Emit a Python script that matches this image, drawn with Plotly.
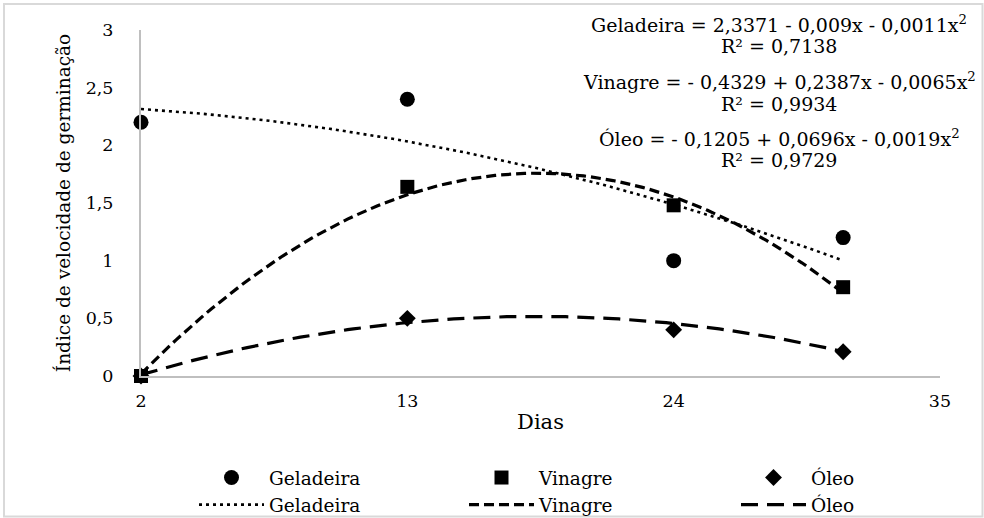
import numpy as np
import plotly.graph_objects as go

# ---- data ----
dias = [2, 13, 24, 31]
geladeira = [2.2, 2.4, 1.0, 1.2]
vinagre = [0.0, 1.64, 1.48, 0.77]
oleo = [0.0, 0.50, 0.40, 0.21]

# trendline coefficients (c0, c1, c2) as printed on the chart
coef_geladeira = [2.3371, -0.009, -0.0011]
coef_vinagre = [-0.4329, 0.2387, -0.0065]
coef_oleo = [-0.1205, 0.0696, -0.0019]

eq_texts = [
    "Geladeira = 2,3371 - 0,009x - 0,0011x<sup>2</sup>",
    "R² = 0,7138",
    "Vinagre = - 0,4329 + 0,2387x - 0,0065x<sup>2</sup>",
    "R² = 0,9934",
    "Óleo = - 0,1205 + 0,0696x - 0,0019x<sup>2</sup>",
    "R² = 0,9729",
]
eq_y = [24, 46, 81, 104, 138, 160]

y_ticks = [0, 0.5, 1, 1.5, 2, 2.5, 3]
x_ticks = [2, 13, 24, 35]

FONT = "DejaVu Serif, Liberation Serif, serif"
W, H = 984, 518
L, R, T, B = 141, 44, 30, 142
pw, ph = W - L - R, H - T - B

xs = np.linspace(min(dias), max(dias), 120)


def poly(c, x):
    return c[0] + c[1] * x + c[2] * x ** 2


def px_x(p):
    return (p - L) / pw


def px_y(p):
    return 1 - (p - T) / ph


fig = go.Figure()
# trend lines (drawn first, under markers)
fig.add_trace(go.Scatter(x=xs, y=poly(coef_geladeira, xs), mode="lines", name="Geladeira",
                         legend="legend", legendrank=2,
                         line=dict(color="black", width=2.6, dash="3px,4px"), cliponaxis=False))
fig.add_trace(go.Scatter(x=xs, y=poly(coef_vinagre, xs), mode="lines", name="Vinagre",
                         legend="legend2", legendrank=2,
                         line=dict(color="black", width=3.2, dash="10px,5px"), cliponaxis=False))
fig.add_trace(go.Scatter(x=xs, y=poly(coef_oleo, xs), mode="lines", name="Óleo",
                         legend="legend3", legendrank=2,
                         line=dict(color="black", width=3.2, dash="17px,9px"), cliponaxis=False))
# observed values
fig.add_trace(go.Scatter(x=dias, y=geladeira, mode="markers", name="Geladeira",
                         legend="legend", legendrank=1,
                         marker=dict(symbol="circle", size=15, color="black"), cliponaxis=False))
fig.add_trace(go.Scatter(x=dias, y=vinagre, mode="markers", name="Vinagre",
                         legend="legend2", legendrank=1,
                         marker=dict(symbol="square", size=14, color="black"), cliponaxis=False))
fig.add_trace(go.Scatter(x=dias, y=oleo, mode="markers", name="Óleo",
                         legend="legend3", legendrank=1,
                         marker=dict(symbol="diamond", size=13, color="black"), cliponaxis=False))

for txt, yp in zip(eq_texts, eq_y):
    fig.add_annotation(text=txt, xref="paper", yref="paper",
                       x=px_x(779), y=px_y(yp),
                       xanchor="center", yanchor="middle", showarrow=False,
                       font=dict(family=FONT, size=19, color="black"))

fig.add_shape(type="rect", xref="paper", yref="paper",
              x0=px_x(4), x1=px_x(982.5),
              y0=px_y(516.5), y1=px_y(4),
              line=dict(color="#d9d9d9", width=2), layer="below")


def leg(xpix):
    return dict(orientation="v", x=px_x(xpix), xanchor="left",
                y=px_y(459), yanchor="top", itemwidth=65,
                font=dict(family=FONT, size=18.5), traceorder="normal",
                bgcolor="rgba(0,0,0,0)", tracegroupgap=0)


fig.update_layout(
    width=W, height=H,
    margin=dict(l=L, r=R, t=T, b=B, autoexpand=False),
    paper_bgcolor="white", plot_bgcolor="white",
    separators=",.",
    font=dict(family=FONT, size=17, color="black"),
    showlegend=True,
    legend=leg(194),
    legend2=leg(464),
    legend3=leg(736),
    xaxis=dict(range=[2, 35], tickvals=x_ticks, showgrid=False, zeroline=False,
               showline=True, linecolor="#bfbfbf", linewidth=2,
               ticks="", ticklabelstandoff=8,
               title=dict(text="Dias", font=dict(size=21), standoff=4),
               tickfont=dict(size=17.5)),
    yaxis=dict(range=[0, 3], tickvals=y_ticks, showgrid=False, zeroline=False,
               showline=True, linecolor="#bfbfbf", linewidth=2,
               ticks="", ticklabelstandoff=22,
               title=dict(text="Índice de velocidade de germinação", font=dict(size=18.5), standoff=10),
               tickfont=dict(size=17.5)),
)

fig.write_html("out.html")
